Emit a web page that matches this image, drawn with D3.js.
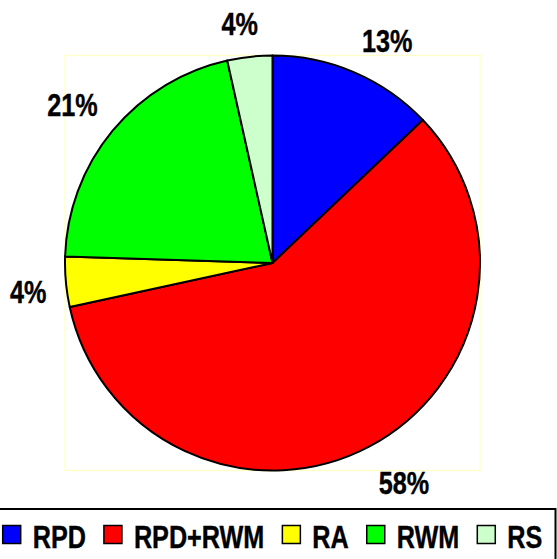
<!DOCTYPE html>
<html>
<head>
<meta charset="utf-8">
<script src="https://cdn.jsdelivr.net/npm/d3@7"></script>
<style>
  html, body { margin: 0; padding: 0; background: #fff; }
  svg { display: block; }
  text { font-family: "Liberation Sans", Arial, sans-serif; font-weight: bold; }
</style>
</head>
<body>
<svg id="chart" width="557" height="559"></svg>
<script>
const categories = ["RPD", "RPD+RWM", "RA", "RWM", "RS"];
const values = [12.9, 58.7, 3.9, 21.0, 3.5];
const valueLabels = ["13%", "58%", "4%", "21%", "4%"];
const colors = ["#0000FF", "#FF0000", "#FFFF00", "#00FF00", "#CCFFCC"];

const W = 557, H = 559;
const cx = 272.5, cy = 263, R = 207.5;
const svg = d3.select("#chart");
const fs = 31.5, sx = 0.8;   // narrow bold look

const data = categories.map((c, i) => ({ cat: c, value: values[i], label: valueLabels[i], color: colors[i] }));

// plot area frame
svg.append("rect")
  .attr("x", cx - R).attr("y", cy - R)
  .attr("width", 2 * R).attr("height", 2 * R)
  .attr("fill", "none").attr("stroke", "#FFFFCC").attr("stroke-width", 1.5);

const pie = d3.pie().sort(null).value(d => d.value);
const arc = d3.arc().innerRadius(0).outerRadius(R);
const arcs = pie(data);

const g = svg.append("g").attr("transform", `translate(${cx},${cy})`);
g.selectAll("path").data(arcs).join("path")
  .attr("d", arc)
  .attr("fill", d => d.data.color)
  .attr("stroke", "#000").attr("stroke-width", 2).attr("stroke-linejoin", "round");

// data labels, outside end
const rA = R + 19.5;
const clampF = v => Math.max(-1, Math.min(1, v / 0.25));
arcs.forEach(a => {
  const mid = (a.startAngle + a.endAngle) / 2;
  const s = Math.sin(mid), c = -Math.cos(mid);
  const ax = cx + rA * s, ay = cy + rA * c;
  const t = svg.append("text").text(a.data.label)
    .attr("font-size", fs).attr("text-anchor", "middle").attr("fill", "#000")
    .attr("stroke", "#000").attr("stroke-width", 0.4);
  const w = t.node().getComputedTextLength() * sx;
  const px = ax + clampF(s) * w / 2;
  const tt = (clampF(c) + 1) / 2;
  const base = ay + (-2.4) * (1 - tt) + 30 * tt;
  t.attr("transform", `translate(${px},${base}) scale(${sx},1)`);
});

// legend
const legTop = 509;
svg.append("rect")
  .attr("x", -3).attr("y", legTop)
  .attr("width", 558.5).attr("height", 60)
  .attr("fill", "#fff").attr("stroke", "#000").attr("stroke-width", 2);

const sq = 18, gapST = 12, gapItem = 18;
const lg = svg.append("g");
const items = lg.selectAll("g").data(data).join("g");
items.append("rect")
  .attr("width", sq).attr("height", sq)
  .attr("y", 525.5)
  .attr("fill", d => d.color).attr("stroke", "#000").attr("stroke-width", 1.5);
items.append("text")
  .text(d => d.cat)
  .attr("font-size", fs).attr("fill", "#000")
  .attr("stroke", "#000").attr("stroke-width", 0.4);
const widths = [];
items.each(function() {
  widths.push(d3.select(this).select("text").node().getComputedTextLength() * sx);
});
const total = widths.reduce((s, w) => s + sq + gapST + w, 0) + gapItem * (widths.length - 1);
let x = 272.5 - total / 2;
items.each(function(d, i) {
  const gsel = d3.select(this);
  gsel.select("rect").attr("x", x);
  gsel.select("text").attr("transform", `translate(${x + sq + gapST},547.5) scale(${sx},1)`);
  x += sq + gapST + widths[i] + gapItem;
});
</script>
</body>
</html>
